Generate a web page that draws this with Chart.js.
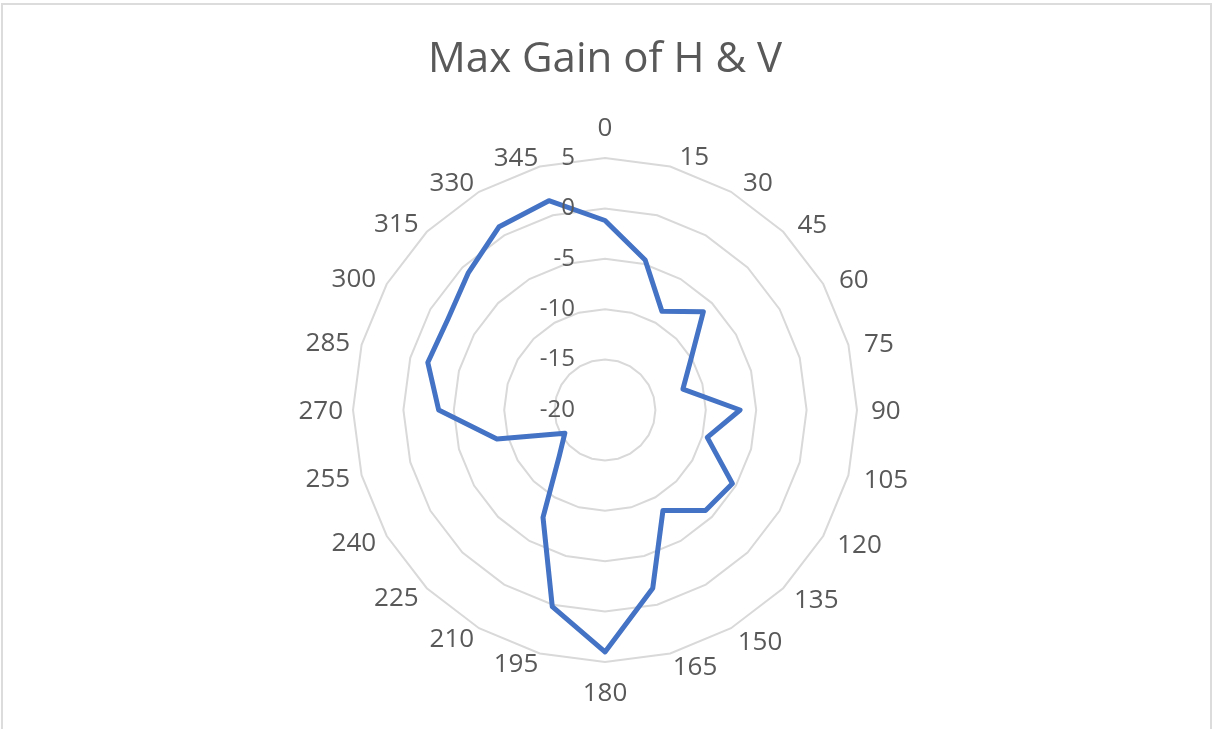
<!DOCTYPE html>
<html>
<head>
<meta charset="utf-8">
<title>Max Gain of H & V</title>
<script src="https://cdn.jsdelivr.net/npm/chart.js"></script>
<style>
  html, body { margin: 0; padding: 0; background: #ffffff; }
  #wrap { position: relative; width: 1212px; height: 729px; }
  #frame {
    position: absolute; left: 1px; top: 3px; width: 1207px; height: 724px;
    border: 2px solid #dcdcdc; border-bottom-width: 1px; pointer-events: none;
  }
</style>
</head>
<body>
<div id="wrap">
  <canvas id="gain-chart" width="1212" height="729"></canvas>
  <div id="frame"></div>
</div>
<script>
//Angles in degrees (categories)
var angles = ['0', '15', '30', '45', '60', '75', '90', '105', '120', '135', '150', '165',
  '180', '195', '210', '225', '240', '255', '270', '285', '300', '315', '330', '345'];

//Max gain in dB
var maxGain = [-1.2, -4.6, -8.7, -6.2, -10.2, -12.0, -6.6, -9.5, -5.4, -5.9, -8.5, -1.7,
  4.0, 0.2, -7.7, -13.6, -15.4, -8.9, -3.5, -1.8, -2.0, -0.8, 1.0, 1.5];

//Radial axis range
var gainMin = -20;
var gainMax = 5;
var gainStep = 5;

var textColor = '#595959';
var labelFont = '26px "Open Sans"';
var tickFont = '24px "Open Sans"';

//Excel style labels: value labels left of the vertical axis,
//angle labels set just outside the outer ring, pushed a little away from the vertical axis
var excelLabelsPlugin = {
  id: 'excelLabels',
  afterDatasetsDraw: function(chart) {
    var scale = chart.scales.r;
    var ctx = chart.ctx;
    ctx.save();
    ctx.fillStyle = textColor;

    //value ticks
    ctx.font = tickFont;
    ctx.textAlign = 'right';
    ctx.textBaseline = 'middle';
    scale.ticks.forEach(function(tick) {
      var d = scale.getDistanceFromCenterForValue(tick.value);
      ctx.fillText(String(tick.value), scale.xCenter - 30, scale.yCenter - d);
    });

    //angle labels
    ctx.font = labelFont;
    ctx.textAlign = 'center';
    ctx.textBaseline = 'alphabetic';
    var inkH = ctx.measureText('0').actualBoundingBoxAscent;
    var n = chart.data.labels.length;
    chart.data.labels.forEach(function(label, i) {
      var deg = i * 360 / n;
      var rad = deg * Math.PI / 180;
      var sn = Math.sin(rad);
      var cs = Math.cos(rad);
      var w = ctx.measureText(label).width;
      var dist, skew = 0;
      if (deg === 0) {
        dist = scale.drawingArea + 31;
      } else if (deg === 180) {
        dist = scale.drawingArea + 30;
      } else {
        var right = deg < 180;
        var gap = right ? 4 + 10 * sn * sn : 1 + 9 * sn * sn;
        dist = scale.drawingArea + gap + Math.abs(sn) * w / 2 + Math.abs(cs) * (inkH + 1) / 2;
        skew = (right ? 1 : -1) * 4.5 * cs * Math.PI / 180;
      }
      var p = scale.getPointPosition(i, dist, skew);
      ctx.fillText(label, p.x, p.y + inkH / 2);
    });
    ctx.restore();
  }
};

var gainChart = new Chart(document.getElementById('gain-chart'), {
  type: 'radar',
  data: {
    labels: angles,
    datasets: [{
      label: 'Max Gain',
      data: maxGain,
      borderColor: '#4472C4',
      borderWidth: 5,
      borderJoinStyle: 'round',
      fill: false,
      pointRadius: 0,
      pointHoverRadius: 0
    }]
  },
  options: {
    responsive: false,
    animation: false,
    layout: {
      padding: { top: 0, bottom: 67, left: 0, right: 2 }
    },
    plugins: {
      legend: { display: false },
      tooltip: { enabled: false },
      title: {
        display: true,
        text: 'Max Gain of H & V',
        color: textColor,
        font: { family: 'Open Sans', size: 42, weight: 'normal' },
        padding: { top: 35, bottom: 72.6 }
      }
    },
    scales: {
      r: {
        min: gainMin,
        max: gainMax,
        ticks: {
          stepSize: gainStep,
          display: false
        },
        grid: {
          color: '#d9d9d9',
          lineWidth: 2,
          circular: false
        },
        angleLines: { display: false },
        pointLabels: { display: false }
      }
    }
  },
  plugins: [excelLabelsPlugin]
});
</script>
</body>
</html>
